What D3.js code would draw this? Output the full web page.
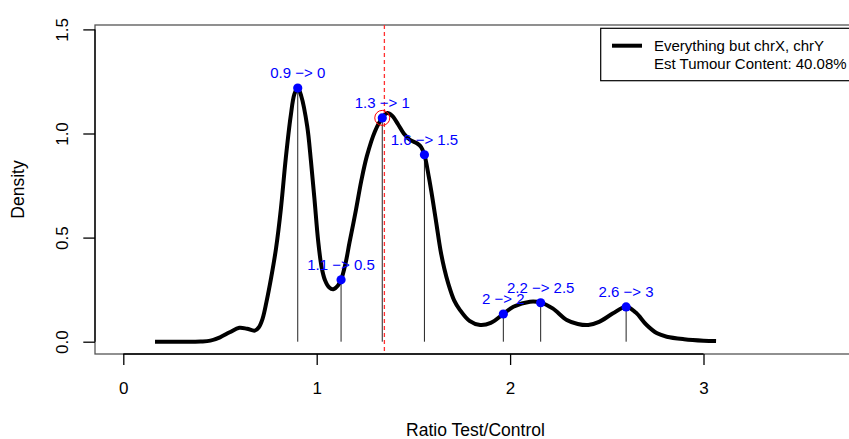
<!DOCTYPE html>
<html>
<head>
<meta charset="utf-8">
<script src="https://cdn.jsdelivr.net/npm/d3@7"></script>
<style>
  body { margin: 0; background: #fff; }
  text { font-family: "Liberation Sans", Arial, sans-serif; }
</style>
</head>
<body>
<svg width="849" height="439"></svg>
<script>
// density curve (ratio, density)
var curveX = [0.164, 0.30, 0.40, 0.45, 0.50, 0.55, 0.60, 0.64, 0.68, 0.70, 0.72, 0.74, 0.765, 0.79, 0.815, 0.84, 0.865, 0.885, 0.902,
  0.92, 0.951, 0.97, 0.988, 1.008, 1.025, 1.043, 1.065, 1.086, 1.11, 1.126, 1.15, 1.169, 1.203, 1.23, 1.259, 1.301, 1.339, 1.365,
  1.39, 1.422, 1.45, 1.482, 1.52, 1.54, 1.557, 1.58, 1.60, 1.62, 1.64, 1.66, 1.68, 1.71, 1.741, 1.79, 1.845, 1.90, 1.965, 2.017,
  2.103, 2.158, 2.22, 2.293, 2.35, 2.404, 2.46, 2.53, 2.60, 2.65, 2.706, 2.76, 2.81, 2.90, 3.0, 3.065];
var curveY = [0.0, 0.0, 0.001, 0.005, 0.021, 0.045, 0.067, 0.062, 0.053, 0.068, 0.11, 0.19, 0.31, 0.45, 0.64, 0.88, 1.08, 1.19, 1.218,
  1.18, 1.034, 0.87, 0.69, 0.48, 0.36, 0.295, 0.26, 0.252, 0.27, 0.297, 0.38, 0.473, 0.633, 0.77, 0.89, 1.01, 1.075, 1.098,
  1.085, 1.042, 1.0, 0.97, 0.952, 0.935, 0.898, 0.79, 0.68, 0.56, 0.44, 0.35, 0.28, 0.20, 0.152, 0.10, 0.08, 0.09, 0.133, 0.168,
  0.192, 0.188, 0.16, 0.104, 0.085, 0.08, 0.095, 0.135, 0.168, 0.14, 0.08, 0.04, 0.024, 0.012, 0.005, 0.003];

// peaks with their copy-number labels
var peakX = [0.902, 1.126, 1.339, 1.557, 1.965, 2.158, 2.600];
var peakY = [1.218, 0.297, 1.075, 0.898, 0.133, 0.187, 0.167];
var peakLabels = ["0.9 −> 0", "1.1 −> 0.5", "1.3 −> 1", "1.6 −> 1.5", "2 −> 2", "2.2 −> 2.5", "2.6 −> 3"];
var chosenPeak = 2;      // circled in red
var cutoffRatio = 1.35;  // dashed red line

var xTicks = [0, 1, 2, 3];
var yTicks = [0, 0.5, 1, 1.5];
var legendLines = ["Everything but chrX, chrY", "Est Tumour Content: 40.08%"];

var svg = d3.select("svg");
var box = {left: 95, right: 858, top: 25, bottom: 354};

var x = d3.scaleLinear().domain([0, 3]).range([123.3, 703.5]);
var y = d3.scaleLinear().domain([0, 1.5]).range([341.7, 29.4]);

// plot box
svg.append("rect")
  .attr("x", box.left).attr("y", box.top)
  .attr("width", box.right - box.left).attr("height", box.bottom - box.top)
  .attr("fill", "none").attr("stroke", "#555").attr("stroke-width", 1.3);

// axes
var xAxis = svg.append("g")
  .attr("transform", "translate(0," + box.bottom + ")")
  .call(d3.axisBottom(x).tickValues(xTicks).tickSize(11).tickPadding(16.7).tickFormat(d3.format("d")));
xAxis.select(".domain").attr("d", "M" + x(0) + ",0H" + x(3)).attr("stroke-width", 1.3);
xAxis.selectAll("line").attr("stroke-width", 1.3);
xAxis.selectAll("text").style("font-size", "17px").attr("fill", "#000");

var yAxis = svg.append("g")
  .attr("transform", "translate(" + box.left + ",0)")
  .call(d3.axisLeft(y).tickValues(yTicks).tickSize(11.7).tickFormat(d3.format(".1f")));
yAxis.select(".domain").attr("d", "M0," + y(0) + "V" + y(1.5)).attr("stroke-width", 1.3);
yAxis.selectAll("line").attr("stroke-width", 1.3);
yAxis.selectAll("text")
  .attr("x", null).attr("dy", "0.35em")
  .attr("transform", "translate(-32.5,0) rotate(-90)")
  .attr("text-anchor", "middle")
  .style("font-size", "17px").attr("fill", "#000");

// axis titles
svg.append("text")
  .attr("x", (box.left + box.right) / 2 - 1).attr("y", 430).attr("dy", "0.35em")
  .attr("text-anchor", "middle").style("font-size", "17.5px")
  .text("Ratio Test/Control");
svg.append("text")
  .attr("transform", "translate(17.5," + (box.top + box.bottom) / 2 + ") rotate(-90)")
  .attr("dy", "0.35em")
  .attr("text-anchor", "middle").style("font-size", "17.5px")
  .text("Density");

// vertical drop lines from each peak
svg.append("g").selectAll("line")
  .data(peakX)
  .enter().append("line")
  .attr("x1", function(d) { return x(d); })
  .attr("x2", function(d) { return x(d); })
  .attr("y1", y(0))
  .attr("y2", function(d, i) { return y(peakY[i]); })
  .attr("stroke", "#222").attr("stroke-width", 1);

// density curve
var line = d3.line()
  .x(function(d, i) { return x(curveX[i]); })
  .y(function(d) { return y(d); })
  .curve(d3.curveCatmullRom.alpha(0.5));

svg.append("path")
  .attr("d", line(curveY))
  .attr("fill", "none").attr("stroke", "#000").attr("stroke-width", 4)
  .attr("stroke-linejoin", "round");

// cutoff line
svg.append("line")
  .attr("x1", x(cutoffRatio)).attr("x2", x(cutoffRatio))
  .attr("y1", box.top).attr("y2", box.bottom)
  .attr("stroke", "#ff3030").attr("stroke-width", 1.3)
  .attr("stroke-dasharray", "4,3");

// peak points
svg.append("g").selectAll("circle")
  .data(peakX)
  .enter().append("circle")
  .attr("cx", function(d) { return x(d); })
  .attr("cy", function(d, i) { return y(peakY[i]); })
  .attr("r", 4.6)
  .attr("fill", "#0000ff");

svg.append("circle")
  .attr("cx", x(peakX[chosenPeak])).attr("cy", y(peakY[chosenPeak]))
  .attr("r", 7.5)
  .attr("fill", "none").attr("stroke", "#ff0000").attr("stroke-width", 1);

svg.append("g").selectAll("text")
  .data(peakLabels)
  .enter().append("text")
  .attr("x", function(d, i) { return x(peakX[i]); })
  .attr("y", function(d, i) { return y(peakY[i]) - 15; })
  .attr("dy", "0.35em")
  .attr("text-anchor", "middle")
  .style("font-size", "15px")
  .attr("fill", "#0000ff")
  .text(function(d) { return d; });

// legend
var legend = svg.append("g");
legend.append("rect")
  .attr("x", 600.7).attr("y", 28.3)
  .attr("width", 280).attr("height", 52.4)
  .attr("fill", "#fff").attr("stroke", "#000").attr("stroke-width", 1.2);
legend.append("line")
  .attr("x1", 612).attr("x2", 642).attr("y1", 45.7).attr("y2", 45.7)
  .attr("stroke", "#000").attr("stroke-width", 4);
legend.selectAll(".lg")
  .data(legendLines)
  .enter().append("text")
  .attr("class", "lg")
  .attr("x", 654)
  .attr("y", function(d, i) { return 45.7 + i * 18.3; })
  .attr("dy", "0.35em")
  .style("font-size", "15px")
  .text(function(d) { return d; });
</script>
</body>
</html>
